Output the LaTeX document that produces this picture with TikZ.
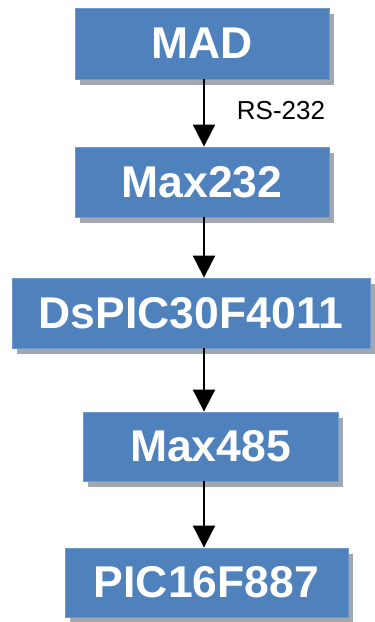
\documentclass[tikz,border=0pt]{standalone}
\usepackage{fontspec}
\setmainfont{Liberation Sans}
\usetikzlibrary{arrows.meta,shadows,positioning}
\definecolor{boxblue}{HTML}{4F81BD}
\definecolor{boxedge}{HTML}{6F98CB}
\definecolor{shadowgray}{HTML}{A2A8AF}
\begin{document}
\begin{tikzpicture}[x=1pt,y=1pt,
  blockbox/.style={draw=boxedge, line width=0.8pt, fill=boxblue, text=white,
    font=\fontsize{44.5}{50}\selectfont\bfseries, inner sep=0pt,
    drop shadow={shadow xshift=5pt, shadow yshift=-6pt, fill=shadowgray, opacity=1}},
  flowarrow/.style={line width=2pt, -{Triangle[width=22pt,length=22pt]}}]
\useasboundingbox (0,0) rectangle (375,622);
\fill[white] (0,0) rectangle (375,622);
\node[blockbox, minimum width=254pt, minimum height=71pt] (mad) at (202,578.5) {MAD};
\node[blockbox, minimum width=254pt, minimum height=70pt] (max232) at (202,440) {Max232};
\node[blockbox, minimum width=358pt, minimum height=70pt] (dspic) at (191,309) {DsPIC30F4011};
\node[blockbox, minimum width=255pt, minimum height=69pt] (max485) at (210.5,175.5) {Max485};
\node[blockbox, minimum width=283pt, minimum height=69pt] (pic) at (206.5,39.5) {PIC16F887};
\coordinate (ax) at (204,0);
\draw[flowarrow] (mad.south -| ax) -- (max232.north -| ax);
\draw[flowarrow] (max232.south -| ax) -- (dspic.north -| ax);
\draw[flowarrow] (dspic.south -| ax) -- (max485.north -| ax);
\draw[flowarrow] (max485.south -| ax) -- (pic.north -| ax);
\node[font=\fontsize{26}{29}\selectfont, inner sep=0pt] (rs) at (281,511) {RS-232};
\end{tikzpicture}
\end{document}
